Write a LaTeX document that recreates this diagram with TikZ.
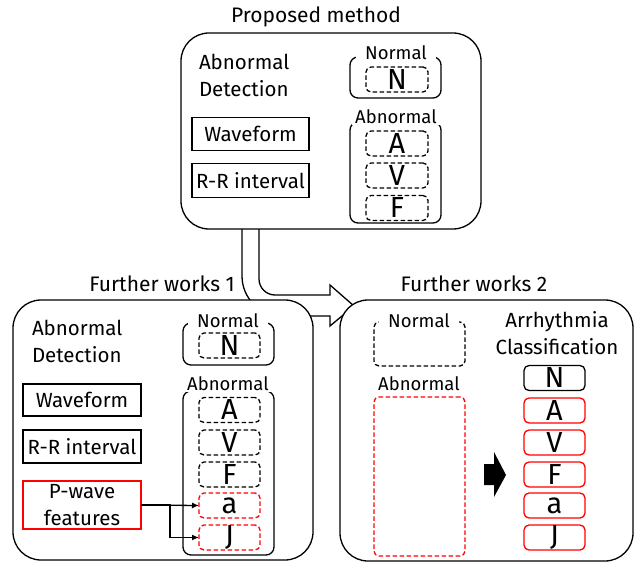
\documentclass[tikz,border=0pt]{standalone}
\usepackage{fontspec}
\setmainfont{Fira Sans}
\usetikzlibrary{arrows.meta}
\begin{document}
\begin{tikzpicture}[x=1pt,y=-1pt,
  every node/.style={inner sep=0pt, outer sep=0pt},
  lw/.style={line width=1.3pt},
  bigbox/.style={draw, lw, fill=white, rounded corners=28pt},
  grp/.style={draw, lw, rounded corners=8pt},
  dbox/.style={draw, lw, dash pattern=on 4.5pt off 2.5pt, rounded corners=5pt},
  rbox/.style={draw, lw, rounded corners=5pt},
  sqbox/.style={draw, lw},
  txt/.style={font=\fontsize{20.5}{27}\selectfont},
  ttl/.style={font=\fontsize{21}{24}\selectfont},
  lbl/.style={font=\fontsize{18.5}{19}\selectfont, fill=white, inner xsep=3pt, inner ysep=1pt},
  lbln/.style={lbl, inner xsep=9pt},
  let/.style={font=\fontsize{29}{29}\selectfont, minimum width=62pt, minimum height=25pt},
  redc/.style={draw=red}
]
\useasboundingbox (0,0) rectangle (634,564);

% big hollow arrow (behind the boxes)
\draw[lw, fill=white, line join=miter]
  (242,228) -- (242,276) .. controls (242,298.1) and (259.9,316) .. (282,316)
  -- (330,316) -- (330,326) -- (354,306) -- (330,285) -- (330,295)
  -- (275,295) .. controls (266.2,295) and (259,287.8) .. (259,279) -- (259,228);

% ---------- Proposed method ----------
\node[ttl] (t0) at (316,17) {Proposed method};
\node[bigbox, minimum width=300pt, minimum height=196pt] (pm) at (331,131) {};
\node[txt, anchor=west, align=left] (ad0) at (199,75) {Abnormal\\Detection};
\node[sqbox, txt, minimum width=117pt, minimum height=33pt] (wf0) at (250.5,134) {Waveform};
\node[sqbox, txt, minimum width=117pt, minimum height=34pt] (rr0) at (250.5,180.5) {R-R interval};
\node[grp, minimum width=91pt, minimum height=41pt] (gn0) at (395.5,77.5) {};
\node[lbln] (ln0) at (396,53) {Normal};
\node[dbox, let, minimum width=62pt] (n0) at (397,79.5) {N};
\node[grp, minimum width=91pt, minimum height=101pt] (ga0) at (395.5,172.5) {};
\node[lbl] (la0) at (396,117) {Abnormal};
\node[dbox, let] (a0) at (397,143.5) {A};
\node[dbox, let] (v0) at (397,175.5) {V};
\node[dbox, let] (f0) at (397,208) {F};

% ---------- Further works 1 ----------
\node[ttl] (t1) at (162,284) {Further works 1};
\node[bigbox, minimum width=300pt, minimum height=260pt] (fw1) at (163,430) {};
\node[txt, anchor=west, align=left] (ad1) at (32,341.5) {Abnormal\\Detection};
\node[sqbox, txt, minimum width=118pt, minimum height=32pt] (wf1) at (82,400) {Waveform};
\node[sqbox, txt, minimum width=118pt, minimum height=33pt] (rr1) at (82,446.5) {R-R interval};
\node[sqbox, redc, txt, align=center, minimum width=118pt, minimum height=48pt] (pw1) at (82,505) {P-wave\\features};
\node[grp, minimum width=91pt, minimum height=42pt] (gn1) at (228.5,344) {};
\node[lbln] (ln1) at (228,321) {Normal};
\node[dbox, let, minimum width=61pt] (n1) at (229.5,345.5) {N};
\node[grp, minimum width=91pt, minimum height=164pt] (ga1) at (228.5,473) {};
\node[lbl] (la1) at (228,384) {Abnormal};
\node[dbox, let, minimum width=61pt] (a1) at (229.5,410) {A};
\node[dbox, let, minimum width=61pt] (v1) at (229.5,442.5) {V};
\node[dbox, let, minimum width=61pt] (f1) at (229.5,474.5) {F};
\node[dbox, redc, let, minimum width=61pt] (aa1) at (229.5,505.5) {a};
\node[dbox, redc, let, minimum width=61pt] (j1) at (229.5,537.5) {J};
\draw[lw, -{Latex[length=7pt,width=6pt]}] (pw1.east) -- (aa1.west);
\draw[lw, -{Latex[length=7pt,width=6pt]}] (pw1.east) -- ++(29,0) |- (j1.west);

% ---------- Further works 2 ----------
\node[ttl] (t2) at (474,284) {Further works 2};
\node[bigbox, minimum width=293pt, minimum height=261pt] (fw2) at (486.5,430.5) {};
\node[dbox, minimum width=91pt, minimum height=44pt] (gn2) at (419.5,344) {};
\node[lbln] (ln2) at (419,321) {Normal};
\node[dbox, redc, minimum width=91pt, minimum height=159pt] (ga2) at (419.5,476.5) {};
\node[lbl] (la2) at (419,384) {Abnormal};
\node[txt, align=center] (ac) at (557,333) {Arrhythmia\\Classification};
\node[rbox, let, minimum width=61pt] (n2) at (554.5,378) {N};
\node[rbox, redc, let, minimum width=61pt] (a2) at (554.5,410.5) {A};
\node[rbox, redc, let, minimum width=61pt] (v2) at (554.5,442.5) {V};
\node[rbox, redc, let, minimum width=61pt] (f2) at (554.5,474.5) {F};
\node[rbox, redc, let, minimum width=61pt] (aa2) at (554.5,505.5) {a};
\node[rbox, redc, let, minimum width=61pt] (j2) at (554.5,537.5) {J};
\fill[black] (484,464) -- (494,464) -- (494,452) -- (506,475) -- (494,497) -- (494,485) -- (484,485) -- cycle;
\end{tikzpicture}
\end{document}
